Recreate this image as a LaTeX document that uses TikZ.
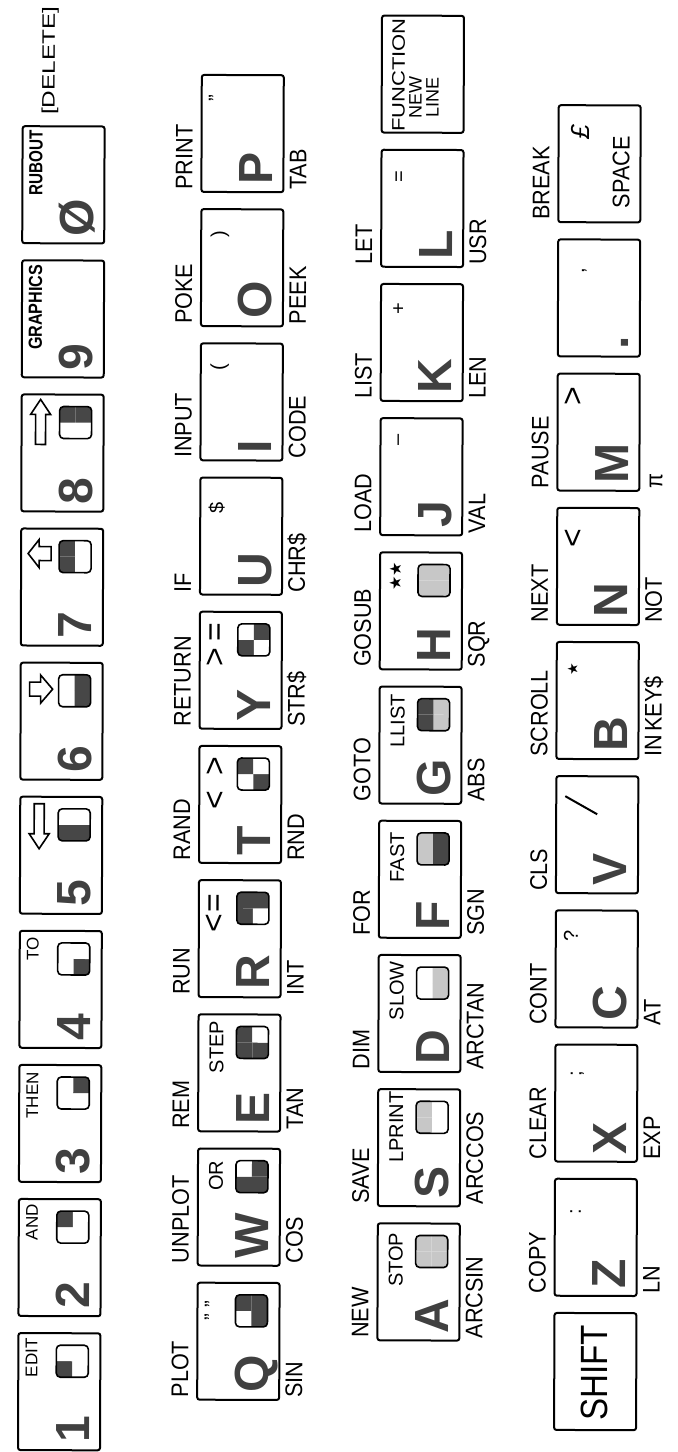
\documentclass[tikz,border=0pt]{standalone}
\usepackage{fontspec}
\setmainfont{Liberation Sans}
\newfontfamily\djv{DejaVu Sans}
\tikzset{
  keyrect/.style={draw=black, line width=1pt, rounded corners=1.2pt, minimum width=58.5pt, minimum height=41pt, inner sep=0pt, anchor=north west},
  lab/.style={inner sep=0pt, anchor=base west, font=\fontsize{12}{12}\selectfont, xscale=0.9},
  big/.style={inner sep=0pt, anchor=base west, font=\bfseries\fontsize{24}{24}\selectfont, text=black!75},
  inner/.style={inner sep=0pt, anchor=base east, font=\fontsize{10}{10}\selectfont},
  tiny/.style={inner sep=0pt, anchor=base east, font=\fontsize{8.5}{8.5}\selectfont},
  sym/.style={inner sep=0pt, anchor=base east, font=\fontsize{16}{16}\selectfont},
  qb/.style={fill=black!72},
  qg/.style={fill=black!22},
  qw/.style={fill=white},
  gframe/.style={draw=black, line width=0.8pt, rounded corners=2pt},
  arrowshape/.style={draw=black, line width=0.8pt, fill=white, line join=miter},
}
\newcommand\zk[3]{%
  \pgfmathsetmacro\kL{#2}\pgfmathsetmacro\kT{#3}%
  \pgfmathsetmacro\kR{\kL+117}\pgfmathsetmacro\kB{\kT-82}%
  \node[keyrect] (#1) at (\kL,\kT) {};}
% graphic block at bottom right: quadrants TL TR BL BR
\newcommand\gfx[4]{%
  \pgfmathsetmacro\gx{\kR-43}\pgfmathsetmacro\gy{\kB+11}%
  \begin{scope}
    \clip[rounded corners=2pt] (\gx,\gy) rectangle ++(32,32);
    \fill[q#1] (\gx,\gy+16) rectangle ++(16,16);
    \fill[q#2] (\gx+16,\gy+16) rectangle ++(16,16);
    \fill[q#3] (\gx,\gy) rectangle ++(16,16);
    \fill[q#4] (\gx+16,\gy) rectangle ++(16,16);
  \end{scope}
  \draw[gframe] (\gx,\gy) rectangle ++(32,32);}
\newcommand\kab[1]{\node[lab] at (\kL+3,\kT+8) {#1};}
\newcommand\kbe[1]{\node[lab] at (\kL+3,\kB-24) {#1};}
\newcommand\bigc[1]{\node[big] at (\kL+8,\kB+10) {#1};}
\begin{document}
\begin{tikzpicture}
\useasboundingbox (0,0) rectangle (338.5pt,726pt);
\begin{scope}[rotate=89.8, transform shape, x=0.5pt, y=0.5pt]
% ---------------- row 1 ----------------
\zk{k1}{1}{-17}\bigc{1}\node[tiny] at (\kR-4,\kT-20) {EDIT};\gfx{b}{w}{w}{w}
\zk{k2}{1+134.1}{-17}\bigc{2}\node[tiny] at (\kR-4,\kT-20) {AND};\gfx{w}{b}{w}{w}
\zk{k3}{1+134.1*2}{-17}\bigc{3}\node[tiny] at (\kR-6,\kT-20) {THEN};\gfx{w}{w}{w}{b}
\zk{k4}{1+134.1*3}{-17}\bigc{4}\node[tiny] at (\kR-5,\kT-20) {TO};\gfx{w}{w}{b}{w}
\zk{k5}{1+134.1*4}{-17}\bigc{5}\gfx{b}{w}{b}{w}
\draw[arrowshape] (\kR-51,\kT-20) -- (\kR-36,\kT-10) -- (\kR-36,\kT-15) -- (\kR-6,\kT-15) -- (\kR-6,\kT-25) -- (\kR-36,\kT-25) -- (\kR-36,\kT-30) -- cycle;
\zk{k6}{1+134.1*5}{-17}\bigc{6}\gfx{w}{w}{b}{b}
\draw[arrowshape] (\kR-25.5,\kT-33) -- (\kR-39.5,\kT-21) -- (\kR-32.5,\kT-21) -- (\kR-32.5,\kT-10) -- (\kR-18.5,\kT-10) -- (\kR-18.5,\kT-21) -- (\kR-11.5,\kT-21) -- cycle;
\zk{k7}{1+134.1*6}{-17}\bigc{7}\gfx{b}{b}{w}{w}
\draw[arrowshape] (\kR-24,\kT-8) -- (\kR-38,\kT-19) -- (\kR-31,\kT-19) -- (\kR-31,\kT-31) -- (\kR-17,\kT-31) -- (\kR-17,\kT-19) -- (\kR-10,\kT-19) -- cycle;
\zk{k8}{1+134.1*7}{-17}\bigc{8}\gfx{w}{b}{w}{b}
\draw[arrowshape] (\kR-4,\kT-20) -- (\kR-19,\kT-10) -- (\kR-19,\kT-15) -- (\kR-49,\kT-15) -- (\kR-49,\kT-25) -- (\kR-19,\kT-25) -- (\kR-19,\kT-30) -- cycle;
\zk{k9}{1+134.1*8}{-17}\bigc{9}\node[tiny, font=\bfseries\fontsize{9.5}{9.5}\selectfont, xscale=0.85] at (\kR-3,\kT-21) {GRAPHICS};
\zk{k0}{1+134.1*9}{-17}\bigc{Ø}\node[tiny, font=\bfseries\fontsize{9.5}{9.5}\selectfont, xscale=0.8] at (\kR-3,\kT-21) {RUBOUT};
\node[inner sep=0pt, anchor=base west, font=\fontsize{9}{9}\selectfont, xscale=1.35] (del) at (\kR+12,\kT-33) {[DELETE]};
% ---------------- row 2 ----------------
\zk{kQ}{52}{-196}\bigc{Q}\kab{PLOT}\kbe{SIN}\node[inner] at (\kR-17,\kT-22) {"\hspace{3pt}"};\gfx{w}{b}{b}{b}
\zk{kW}{52+134.2}{-196}\bigc{W}\kab{UNPLOT}\kbe{COS}\node[inner] at (\kR-11,\kT-26) {OR};\gfx{b}{w}{b}{b}
\zk{kE}{52+134.2*2}{-196}\bigc{E}\kab{REM}\kbe{TAN}\node[inner] at (\kR-5,\kT-26) {STEP};\gfx{b}{b}{b}{w}
\zk{kR}{52+134.2*3}{-196}\bigc{R}\kab{RUN}\kbe{INT}\node[sym] at (\kR-12,\kT-27) {<\hspace{1pt}=};\gfx{b}{b}{w}{b}
\zk{kT}{52+134.2*4}{-196}\bigc{T}\kab{RAND}\kbe{RND}\node[sym] at (\kR-9,\kT-27) {<\hspace{8pt}>};\gfx{w}{b}{b}{w}
\zk{kY}{52+134.2*5}{-196}\bigc{Y}\kab{RETURN}\kbe{STR\$}\node[sym] at (\kR-10,\kT-27) {>\hspace{3pt}=};\gfx{b}{w}{w}{b}
\zk{kU}{52+134.2*6}{-196}\bigc{U}\kab{IF}\kbe{CHR\$}\node[inner] at (\kR-23,\kT-24) {\$};
\zk{kI}{52+134.2*7}{-196}\bigc{I}\kab{INPUT}\kbe{CODE}\node[inner] at (\kR-19,\kT-25) {(};
\zk{kO}{52+134.2*8}{-196}\bigc{O}\kab{POKE}\kbe{PEEK}\node[inner] at (\kR-20,\kT-25) {)};
\zk{kP}{52+134.2*9}{-196}\bigc{P}\kab{PRINT}\kbe{TAB}\node[inner] at (\kR-18,\kT-22) {"};
% ---------------- row 3 ----------------
\zk{kA}{112}{-376}\bigc{A}\kab{NEW}\kbe{ARCSIN}\node[inner] at (\kR-8,\kT-26) {STOP};\gfx{g}{g}{g}{g}
\zk{kS}{112+134.2}{-376}\bigc{S}\kab{SAVE}\kbe{ARCCOS}\node[inner] at (\kR-1,\kT-26) {LPRINT};\gfx{g}{g}{w}{w}
\zk{kD}{112+134.2*2}{-376}\bigc{D}\kab{DIM}\kbe{ARCTAN}\node[inner] at (\kR-5,\kT-26) {SLOW};\gfx{w}{w}{g}{g}
\zk{kF}{112+134.2*3}{-376}\bigc{F}\kab{FOR}\kbe{SGN}\node[inner] at (\kR-10,\kT-26) {FAST};\gfx{g}{g}{b}{b}
\zk{kG}{112+134.2*4}{-376}\bigc{G}\kab{GOTO}\kbe{ABS}\node[inner] at (\kR-6,\kT-26) {LLIST};\gfx{b}{b}{g}{g}
\zk{kH}{112+134.2*5}{-376}\bigc{H}\kab{GOSUB}\kbe{SQR}\node[inner, font=\djv\fontsize{8}{8}\selectfont] at (\kR-8,\kT-22) {★★};\gfx{g}{g}{g}{g}
\zk{kJ}{112+134.2*6}{-376}\bigc{J}\kab{LOAD}\kbe{VAL}\node[inner] at (\kR-15,\kT-24) {–};
\zk{kK}{112+134.2*7}{-376}\bigc{K}\kab{LIST}\kbe{LEN}\node[inner] at (\kR-17,\kT-25) {+};
\zk{kL}{112+134.2*8}{-376}\bigc{L}\kab{LET}\kbe{USR}\node[inner] at (\kR-20,\kT-25) {=};
\zk{kNL}{112+134.2*9}{-376}
\node[inner sep=0pt, anchor=base, font=\fontsize{9}{9}\selectfont, xscale=1.22] (fn) at (\kL+58.5,\kT-24) {FUNCTION};
\node[inner sep=0pt, anchor=base, font=\fontsize{9}{9}\selectfont] (nw) at (\kL+36,\kT-41) {NEW};
\node[inner sep=0pt, anchor=base, font=\fontsize{9}{9}\selectfont] (ln) at (\kL+36,\kT-58) {LINE};
% ---------------- row 4 ----------------
\zk{kSH}{23}{-553}\node[inner sep=0pt, anchor=center, font=\fontsize{19}{19}\selectfont, xscale=0.87] (shift) at (\kL+58.5,\kT-41) {SHIFT};
\zk{kZ}{23+134.2}{-553}\bigc{Z}\kab{COPY}\kbe{LN}\node[inner] at (\kR-29,\kT-27) {:};
\zk{kX}{23+134.2*2}{-553}\bigc{X}\kab{CLEAR}\kbe{EXP}\node[inner] at (\kR-25,\kT-27) {;};
\zk{kC}{23+134.2*3}{-553}\bigc{C}\kab{CONT}\kbe{AT}\node[inner] at (\kR-19,\kT-23) {?};
\zk{kV}{23+134.2*4}{-553}\bigc{V}\kab{CLS}
\draw[line width=1pt] (\kR-37,\kT-42) -- (\kR-19,\kT-10);
\zk{kB}{23+134.2*5}{-553}\bigc{B}\kab{SCROLL}\kbe{IN\,KEY\$}\node[inner, font=\djv\fontsize{7}{7}\selectfont] at (\kR-20,\kT-22) {★};
\zk{kN}{23+134.2*6}{-553}\bigc{N}\kab{NEXT}\kbe{NOT}\node[sym] at (\kR-20,\kT-27) {<};
\zk{kM}{23+134.2*7}{-553}\bigc{M}\kab{PAUSE}\kbe{π}\node[sym] at (\kR-12,\kT-27) {>};
\zk{kDot}{23+134.2*8}{-553}\bigc{.}\node[inner] at (\kR-27,\kT-27) {,};
\zk{kSP}{23+134.2*9}{-553}\kab{BREAK}\node[inner, font=\itshape\fontsize{13}{13}\selectfont] at (\kR-18,\kT-32) {£};
\node[inner sep=0pt, anchor=base west, font=\fontsize{12}{12}\selectfont, xscale=0.9] (space) at (\kL+15,\kB+10) {SPACE};
\end{scope}
\end{tikzpicture}
\end{document}
